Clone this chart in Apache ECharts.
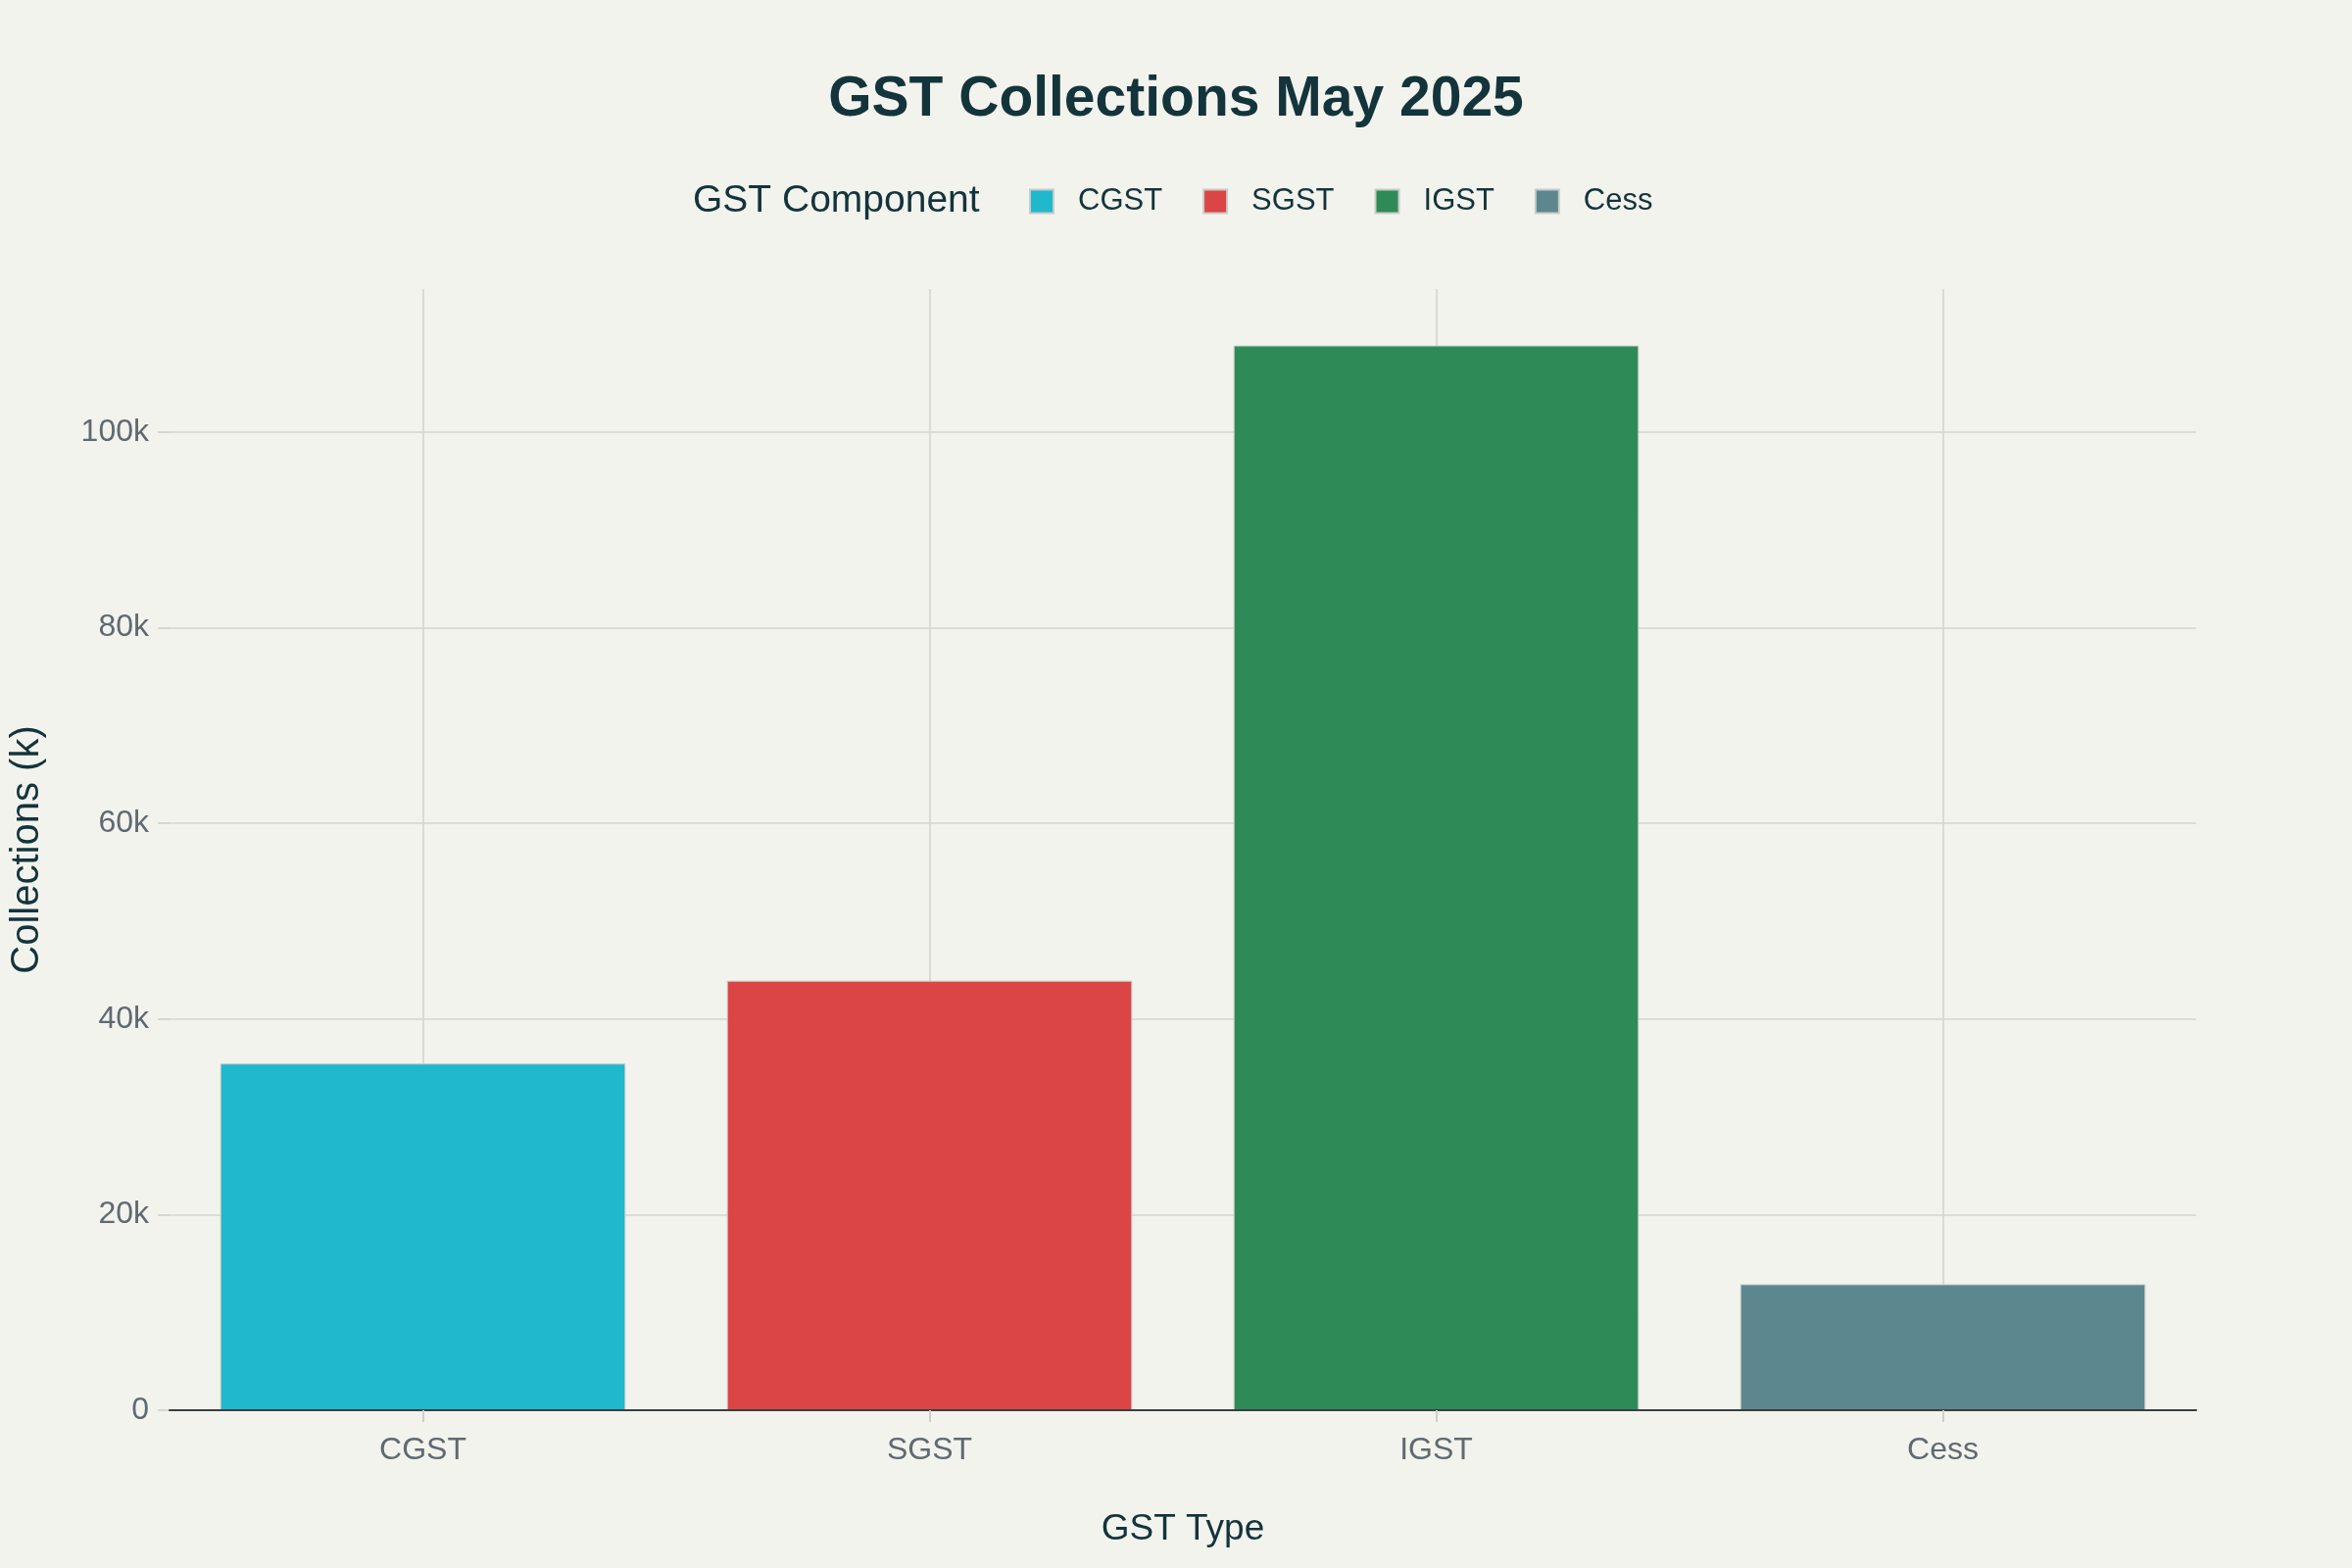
<!DOCTYPE html>
<html>
<head>
<meta charset="utf-8">
<script src="https://cdn.jsdelivr.net/npm/echarts@6/dist/echarts.min.js"></script>
<style>
html,body{margin:0;padding:0;background:#F3F3EE;}
#chart{width:2400px;height:1600px;}
</style>
</head>
<body>
<div id="chart"></div>
<script>
const categories = ['CGST', 'SGST', 'IGST', 'Cess'];
const values = [35434, 43902, 108836, 12879];
const colors = ['#1FB8CD', '#DB4545', '#2E8B57', '#5D878F'];
const yTicks = [0, 20000, 40000, 60000, 80000, 100000];

const FONT = 'Liberation Sans, Arial, sans-serif';
const chart = echarts.init(document.getElementById('chart'));

// half-step slots so vertical grid lines fall on category centres
const halfSlots = [];
for (let i = 0; i <= categories.length * 2; i++) halfSlots.push('s' + i);

const series = categories.map((c, i) => ({
  name: c,
  type: 'bar',
  stack: 'all',
  barWidth: '80%',
  xAxisIndex: 0,
  data: categories.map((_, j) => (j === i ? values[i] : null)),
  itemStyle: { color: colors[i], borderColor: '#c9ccc8', borderWidth: 1 },
  emphasis: { disabled: true }
}));

chart.setOption({
  backgroundColor: '#F3F3EE',
  animation: false,
  textStyle: { fontFamily: FONT },
  title: {
    text: 'GST Collections May 2025',
    left: 'center',
    top: 69,
    textStyle: { fontSize: 57, fontWeight: 'bold', color: '#13343B', fontFamily: FONT }
  },
  graphic: [{
    type: 'text',
    left: 707,
    top: 186,
    style: { text: 'GST Component', fontSize: 39, fill: '#13343B', fontFamily: FONT }
  }],
  legend: {
    left: 1045,
    top: 185,
    itemWidth: 24,
    itemHeight: 24,
    itemGap: 41,
    icon: 'rect',
    selectedMode: false,
    textStyle: { fontSize: 31, color: '#13343B', padding: [0, 0, 0, 20], fontFamily: FONT },
    data: categories
  },
  grid: { left: 171, right: 159, top: 295, bottom: 161 },
  xAxis: [{
    type: 'category',
    data: categories,
    name: 'GST Type',
    nameLocation: 'middle',
    nameGap: 103,
    nameTextStyle: { fontSize: 37, color: '#13343B' },
    axisLine: { show: true, lineStyle: { color: '#3a3f40', width: 2 } },
    axisTick: { show: true, alignWithLabel: true, length: 12, lineStyle: { color: '#cfcfca', width: 2 } },
    axisLabel: { fontSize: 32, color: '#5f6a70', margin: 25 },
    splitLine: { show: false },
    z: 5
  }, {
    type: 'category',
    data: halfSlots,
    boundaryGap: false,
    position: 'bottom',
    axisLine: { show: false },
    axisTick: { show: false },
    axisLabel: { show: false },
    splitLine: {
      show: true,
      interval: (idx) => idx % 2 === 1,
      lineStyle: { color: '#d3d3ce', width: 1.5 }
    }
  }],
  yAxis: {
    type: 'value',
    min: 0,
    max: 114600,
    interval: 20000,
    name: 'Collections (k)',
    nameLocation: 'middle',
    nameGap: 125,
    nameTextStyle: { fontSize: 40, color: '#13343B' },
    axisLine: { show: false },
    axisTick: { show: true, length: 12, lineStyle: { color: '#d6d6d1', width: 2 } },
    axisLabel: {
      fontSize: 32,
      color: '#5f6a70',
      margin: 21,
      showMaxLabel: false,
      formatter: v => (yTicks.includes(v) ? (v === 0 ? '0' : (v / 1000) + 'k') : '')
    },
    splitLine: { show: true, showMaxLine: false, lineStyle: { color: '#d6d6d1', width: 1.5 } }
  },
  series: series
});
</script>
</body>
</html>
